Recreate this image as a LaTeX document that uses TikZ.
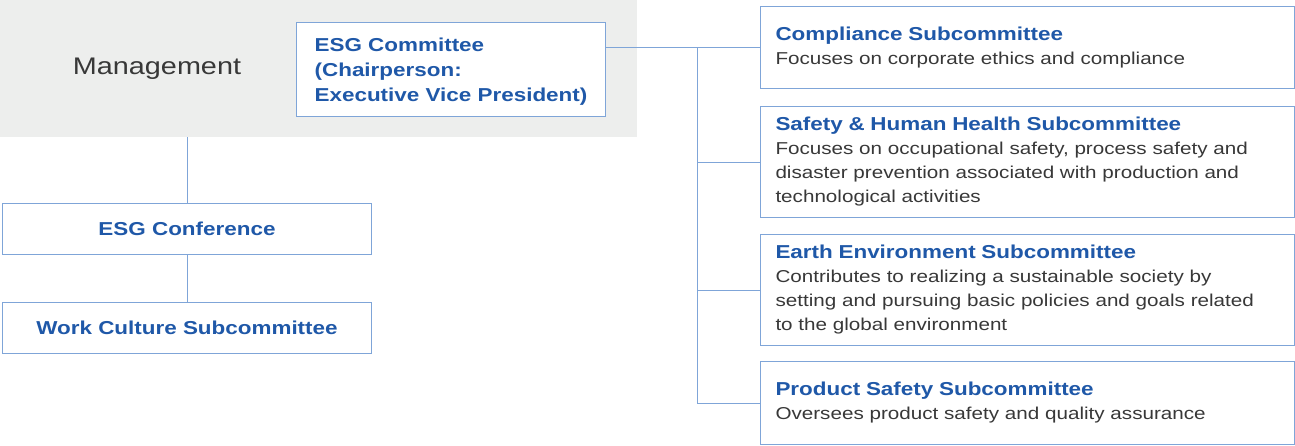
\documentclass[tikz,border=0pt]{standalone}
\usepackage{fontspec}
\setmainfont[FakeStretch=1.2]{Liberation Sans}
\usetikzlibrary{positioning}
\definecolor{esgblue}{HTML}{1F58A8}
\definecolor{esgline}{HTML}{7FA5D8}
\definecolor{esggray}{HTML}{EDEEED}
\definecolor{esgtext}{HTML}{383838}
\newcommand{\subhead}[1]{{\color{esgblue}\bfseries\fontsize{18.7}{24}\selectfont #1}}

\begin{document}
\begin{tikzpicture}[x=1pt,y=-1pt,
  box/.style={draw=esgline,line width=1pt,fill=white,rectangle,anchor=north west,inner sep=0pt},
  sub/.style={box,minimum width=534pt,text width=504pt,inner xsep=15pt,align=left,
    text=esgtext,font=\fontsize{17.2}{24}\selectfont},
  lbox/.style={box,minimum width=369pt,minimum height=51pt,text=esgblue,text depth=0pt,
    font=\bfseries\fontsize{18.7}{24}\selectfont},
  link/.style={draw=esgline,line width=1pt}]
\useasboundingbox (0,0) rectangle (1295,445);

% management area
\node[fill=esggray,anchor=north west,inner sep=0pt,minimum width=637pt,minimum height=137pt] (mgmtarea) at (0,0) {};
\node[text=esgtext,font=\fontsize{24}{28}\selectfont] (mgmt) at (157,69) {Management};
\node[box,minimum width=309pt,minimum height=94pt,align=left,text=esgblue,text depth=0pt,
  font=\bfseries\fontsize{18.7}{25}\selectfont] (esg) at (296,22)
  {ESG Committee\\(Chairperson:\\Executive Vice President)};

% left column
\node[lbox] (conf) at (2,203) {ESG Conference};
\node[lbox] (work) at (2,302) {Work Culture Subcommittee};

% subcommittees
\node[sub,minimum height=82pt] (comp) at (760,6)
  {\subhead{Compliance Subcommittee}\\Focuses on corporate ethics and compliance};
\node[sub,minimum height=111pt] (safe) at (760,106)
  {\subhead{Safety \& Human Health Subcommittee}\\Focuses on occupational safety, process safety and\\disaster prevention associated with production and\\technological activities};
\node[sub,minimum height=111pt] (earth) at (760,234)
  {\subhead{Earth Environment Subcommittee}\\Contributes to realizing a sustainable society by\\setting and pursuing basic policies and goals related\\to the global environment};
\node[sub,minimum height=83pt] (prod) at (760,361)
  {\subhead{Product Safety Subcommittee}\\Oversees product safety and quality assurance};

\coordinate (trunk) at (697,47);

\draw[link] (conf.north |- mgmtarea.south) -- (conf.north);
\draw[link] (conf.south) -- (work.north);
\draw[link] (esg.east |- comp.west) -- (comp.west);
\draw[link] (trunk) |- (prod.west);
\foreach \n in {safe,earth}
  \draw[link] (trunk |- \n.west) -- (\n.west);
\end{tikzpicture}
\end{document}
